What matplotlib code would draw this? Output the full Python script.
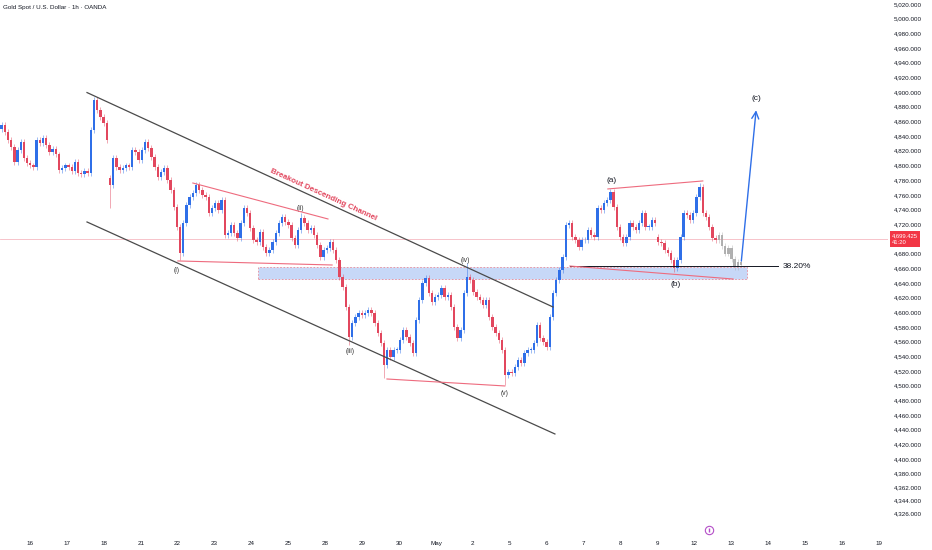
import matplotlib
matplotlib.use("Agg")
import matplotlib.pyplot as plt
from matplotlib.patches import Rectangle

##############################################################
# Data (XAUUSD, ~2 candles per 2.2h slot)
##############################################################

CLOSES = [
    4855, 4845, 4835, 4825, 4805, 4821, 4832, 4810, 4803, 4800,
    4798, 4835, 4830, 4838, 4828, 4818, 4822, 4815, 4794, 4797,
    4800, 4798, 4792, 4805, 4790, 4788, 4793, 4790, 4848, 4889,
    4875, 4866, 4858, 4835, 4773, 4810, 4798, 4794, 4797, 4800,
    4798, 4821, 4818, 4807, 4821, 4832, 4824, 4812, 4798, 4784,
    4791, 4797, 4780, 4767, 4743, 4716, 4681, 4722, 4746, 4757,
    4762, 4773, 4767, 4760, 4757, 4735, 4742, 4749, 4739, 4753,
    4705, 4708, 4719, 4708, 4701, 4722, 4742, 4735, 4715, 4698,
    4696, 4709, 4689, 4681, 4685, 4696, 4708, 4722, 4730, 4723,
    4719, 4701, 4692, 4712, 4728, 4722, 4712, 4715, 4705, 4692,
    4675, 4685, 4688, 4696, 4685, 4671, 4648, 4634, 4607, 4566,
    4585, 4594, 4599, 4596, 4599, 4603, 4599, 4585, 4572, 4558,
    4528, 4549, 4539, 4549, 4549, 4562, 4576, 4566, 4558, 4545,
    4590, 4617, 4640, 4647, 4626, 4614, 4621, 4623, 4633, 4621,
    4623, 4607, 4580, 4565, 4576, 4626, 4648, 4644, 4628, 4621,
    4617, 4610, 4617, 4594, 4580, 4572, 4562, 4549, 4515, 4519,
    4517, 4525, 4535, 4531, 4545, 4549, 4549, 4558, 4583, 4565,
    4559, 4553, 4594, 4626, 4644, 4658, 4675, 4719, 4722, 4703,
    4698, 4689, 4698, 4698, 4712, 4705, 4703, 4742, 4739, 4749,
    4753, 4764, 4744, 4716, 4703, 4694, 4703, 4722, 4716, 4712,
    4722, 4735, 4716, 4716, 4726, 4722, 4696, 4694, 4685, 4681,
    4671, 4660, 4671, 4703, 4735, 4732, 4726, 4735, 4757, 4771,
    4735, 4730, 4716, 4701, 4699,
]
FIRST_OPEN = 4850
GAP_OPENS  = {34: 4783, 206: 4703}
HIGHS      = {29: 4893, 94: 4735, 146: 4667, 191: 4768, 219: 4776}
LOWS       = {34: 4742, 56: 4671, 109: 4555, 120: 4510, 158: 4501, 211: 4655}

# grey projected candles drawn by the author
PROJ_CLOSES = [4705, 4690, 4680, 4688, 4672, 4662, 4668, 4665]

LAST_PRICE = 4699.425
COUNTDOWN  = "41:20"
FIB_LEVEL  = 4663
FIB_TEXT   = "38.20%"
ZONE       = (4645, 4662)

DAY_LABELS = ["16", "17", "18", "21", "22", "23", "24", "25", "28", "29",
              "30", "May", "2", "5", "6", "7", "8", "9", "12", "13",
              "14", "15", "16", "19"]
PRICE_TICKS = [5020, 5000, 4980, 4960, 4940, 4920, 4900, 4880, 4860, 4840,
               4820, 4800, 4780, 4760, 4740, 4720, 4680, 4660, 4640, 4620,
               4600, 4580, 4560, 4540, 4520, 4500, 4480, 4460, 4440, 4420,
               4400, 4380, 4362, 4344, 4326]

WAVES = [("(i)", 55.0, 4657), ("(ii)", 93.6, 4741), ("(iii)", 109.3, 4547),
         ("(iv)", 145.4, 4670), ("(v)", 157.9, 4490)]
ABC   = [("(a)", 191.5, 4779), ("(b)", 211.6, 4638), ("(c)", 236.7, 4891)]

##############################################################
# Style
##############################################################
plt.rcParams['font.family'] = ['Liberation Sans', 'DejaVu Sans']

UP    = '#2F6FE8'
DOWN  = '#E2475E'
GREY  = '#A9A9A9'
PINK  = '#EE6B7E'
INK   = '#131722'

DAY_BARS  = 11.58      # candles per trading day on this zoom
FIRST_DAY = 8.9        # candle index of the first day label

fig = plt.figure(figsize=(9.32, 5.5), dpi=100)
ax = fig.add_axes([0, 17 / 550, 888 / 932, 533 / 550])
ax.set_xlim(-0.5, 278.1)
ax.set_ylim(4299.3, 5025.4)
for s in ax.spines.values():
    s.set_visible(False)

##################################
# candles
def draw_candles(closes, start, first_open, colour_fn, alpha=1.0):
    prev = first_open
    for k, c in enumerate(closes):
        i = start + k
        o = GAP_OPENS.get(i, prev)
        hi = HIGHS.get(i, max(o, c) + 4)
        lo = LOWS.get(i, min(o, c) - 4)
        col = colour_fn(o, c)
        ax.vlines(i, lo, hi, color=col, lw=0.6, alpha=0.55 * alpha, zorder=3)
        ax.bar(i, max(abs(c - o), 0.9), bottom=min(o, c), width=0.75,
               color=col, alpha=alpha, zorder=4, linewidth=0)
        prev = c

draw_candles(CLOSES, 0, FIRST_OPEN, lambda o, c: UP if c >= o else DOWN)
draw_candles(PROJ_CLOSES, len(CLOSES), CLOSES[-1], lambda o, c: GREY, alpha=0.9)

##################################
# zone, fib level, last price
ax.add_patch(Rectangle((80.4, ZONE[0]), 153.5, ZONE[1] - ZONE[0],
                       fc='#C7D8F7', ec='#E98A99', lw=0.6,
                       linestyle=(0, (2, 2)), zorder=2))
ax.plot([178.3, 243.6], [FIB_LEVEL, FIB_LEVEL], color=INK, lw=0.7, zorder=5)
ax.text(245.1, FIB_LEVEL, FIB_TEXT, fontsize=6, color=INK,
        va='center', ha='left')
ax.axhline(LAST_PRICE, color='#F6B9C2', lw=0.6, zorder=1)
ax.text(1.004, LAST_PRICE, "4,699.425\n" + COUNTDOWN,
        transform=ax.get_yaxis_transform(), ha='left', va='center',
        fontsize=4.2, color='white', linespacing=1.4, clip_on=False,
        bbox=dict(boxstyle='square,pad=0.35', fc='#F23645', ec='none'))

##################################
# channel + wave structure lines
ax.plot([26.8, 173.0], [4899.3, 4607.2], color='#4A4A4A', lw=0.9, zorder=5)
ax.plot([26.8, 173.6], [4723.0, 4434.2], color='#4A4A4A', lw=0.9, zorder=5)
ax.text(100.8, 4759.8, "Breakout Descending Channel", color=DOWN,
        fontsize=5.8, fontweight='bold', rotation=-24.5,
        ha='center', va='center', rotation_mode='anchor')
ax.plot([60.0, 102.4], [4776.1, 4727.1], color=PINK, lw=0.8, zorder=5)
ax.plot([55.3, 103.7], [4669.9, 4664.4], color=PINK, lw=0.8, zorder=5)
ax.plot([120.9, 157.9], [4509.1, 4499.6], color=PINK, lw=0.8, zorder=5)
ax.plot([190.2, 220.0], [4768.0, 4778.9], color=PINK, lw=0.8, zorder=5)
ax.plot([178.3, 229.5], [4663.0, 4645.3], color=PINK, lw=0.8, zorder=5)

ax.annotate('', xy=(236.8, 4879), xytext=(232.0, 4666),
            arrowprops=dict(arrowstyle='->,head_length=0.5,head_width=0.25',
                            color=UP, lw=1.0), zorder=6)

for txt, x, y in WAVES:
    ax.text(x, y, txt, fontsize=4.8, color='#333333', ha='center', va='center')
for txt, x, y in ABC:
    ax.text(x, y, txt, fontsize=6, color=INK, ha='center', va='center')

##################################
# event marker on the time scale
ax.plot(221.9, 4304, marker='o', ms=6, mfc='white', mec='#B44FC8',
        mew=0.8, zorder=6, clip_on=False)
ax.plot(221.9, 4304, marker='|', ms=3, color='#B44FC8', zorder=7,
        clip_on=False)

##################################
# axes labels
ax.yaxis.tick_right()
ax.set_yticks(PRICE_TICKS)
ax.set_yticklabels([f"{v:,.3f}" for v in PRICE_TICKS])
ax.tick_params(axis='y', length=0, pad=4, labelsize=4.5, labelcolor=INK)

ax.set_xticks([FIRST_DAY + k * DAY_BARS for k in range(len(DAY_LABELS))])
ax.set_xticklabels(DAY_LABELS)
ax.tick_params(axis='x', length=0, pad=6, labelsize=4.5, labelcolor=INK)

fig.text(3 / 932, 1 - 7 / 550, "Gold Spot / U.S. Dollar · 1h · OANDA",
         fontsize=4.5, color=INK, ha='left', va='center')

fig.savefig('out.png', dpi=100, facecolor='white')
